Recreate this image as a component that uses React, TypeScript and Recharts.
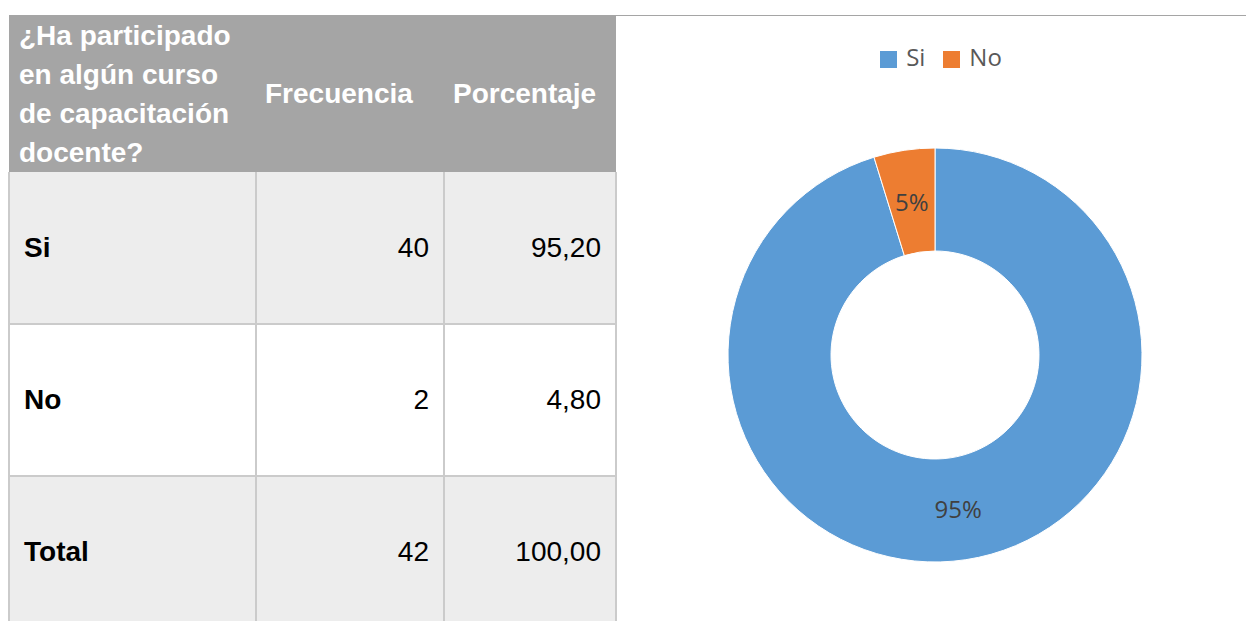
import React from "react";
import { Cell, Legend, Pie, PieChart } from "recharts";

const categorias = ["Si", "No"];
const frecuencias = [40, 2];
const porcentajes = ["95,20", "4,80"];
const totalFrecuencia = 42;
const totalPorcentaje = "100,00";
const encabezado = ["¿Ha participado", "en algún curso", "de capacitación", "docente?"];

const AZUL = "#5b9bd5";
const NARANJA = "#ed7d31";
const COLORES = [AZUL, NARANJA];
const RAD = Math.PI / 180;

const FUENTE = "'Liberation Sans', Arial, sans-serif";
const FUENTE_GRAF = "'Open Sans', 'Noto Sans', sans-serif";
const BORDE = "2px solid #cbcbcb";

const datos = categorias.map((c, i) => ({ nombre: c, valor: frecuencias[i] }));

function Etiqueta({ cx, cy, midAngle, innerRadius, outerRadius, percent }: any) {
  const r = (innerRadius + outerRadius) / 2;
  const x = cx + r * Math.cos(-midAngle * RAD);
  const y = cy + r * Math.sin(-midAngle * RAD);
  return (
    <text x={x} y={y} textAnchor="middle" dominantBaseline="central" fill="#404040"
      style={{ fontFamily: FUENTE_GRAF, fontSize: 24 }}>
      {`${Math.round(percent * 100)}%`}
    </text>
  );
}

function Tabla() {
  const celda: React.CSSProperties = {
    borderLeft: BORDE,
    borderBottom: BORDE,
    padding: "0 14px",
    fontSize: 28,
    verticalAlign: "middle",
  };
  const filas = [
    ...categorias.map((c, i) => ({ et: c, f: String(frecuencias[i]), p: porcentajes[i] })),
    { et: "Total", f: String(totalFrecuencia), p: totalPorcentaje },
  ];
  return (
    <table style={{ position: "absolute", left: 8, top: 15, width: 607, borderCollapse: "collapse",
      tableLayout: "fixed", fontFamily: FUENTE, color: "#000" }}>
      <colgroup>
        <col style={{ width: 247 }} />
        <col style={{ width: 188 }} />
        <col style={{ width: 172 }} />
      </colgroup>
      <thead>
        <tr style={{ height: 157, background: "#a5a5a5", color: "#fff" }}>
          <th style={{ textAlign: "left", padding: "0 6px 0 10px", fontSize: 28, lineHeight: "39px", fontWeight: 700 }}>
            {encabezado.map((l, i) => (
              <React.Fragment key={i}>{l}{i < encabezado.length - 1 && <br />}</React.Fragment>
            ))}
          </th>
          <th style={{ textAlign: "left", padding: "0 0 0 9px", fontSize: 28, fontWeight: 700 }}>Frecuencia</th>
          <th style={{ textAlign: "left", padding: "0 0 0 9px", fontSize: 28, fontWeight: 700 }}>Porcentaje</th>
        </tr>
      </thead>
      <tbody>
        {filas.map((f, i) => (
          <tr key={f.et} style={{ height: 152, background: i % 2 === 0 ? "#ededed" : "#fff" }}>
            <td style={{ ...celda, fontWeight: 700, textAlign: "left", paddingLeft: 14 }}>{f.et}</td>
            <td style={{ ...celda, textAlign: "right" }}>{f.f}</td>
            <td style={{ ...celda, textAlign: "right", borderRight: BORDE }}>{f.p}</td>
          </tr>
        ))}
      </tbody>
    </table>
  );
}

export default function App() {
  return (
    <div style={{ position: "absolute", left: 0, top: 0, width: 1246, height: 621, overflow: "hidden", background: "#fff" }}>
      <Tabla />
      <div style={{ position: "absolute", left: 615, top: 15, width: 631, height: 1, background: "#a5a5a5" }} />
      <div style={{ position: "absolute", left: 620, top: 16, width: 626, height: 605 }}>
        <PieChart width={626} height={605}>
          <Legend
            verticalAlign="top"
            align="center"
            iconType="square"
            iconSize={17}
            itemSorter={(e: any) => categorias.indexOf(e.value)}
            wrapperStyle={{ top: 24, left: 22, fontFamily: FUENTE_GRAF, fontSize: 24 }}
            formatter={(v: any) => (
              <span style={{ color: "#595959", marginLeft: 5, paddingRight: 8 }}>{v}</span>
            )}
          />
          <Pie
            data={datos}
            dataKey="valor"
            nameKey="nombre"
            cx={310}
            cy={301}
            innerRadius={104}
            outerRadius={207}
            startAngle={90}
            endAngle={-270}
            stroke="#fff"
            strokeWidth={1}
            label={Etiqueta}
            labelLine={false}
            isAnimationActive={false}
          >
            {datos.map((_, i) => (
              <Cell key={i} fill={COLORES[i]} />
            ))}
          </Pie>
        </PieChart>
      </div>
    </div>
  );
}
